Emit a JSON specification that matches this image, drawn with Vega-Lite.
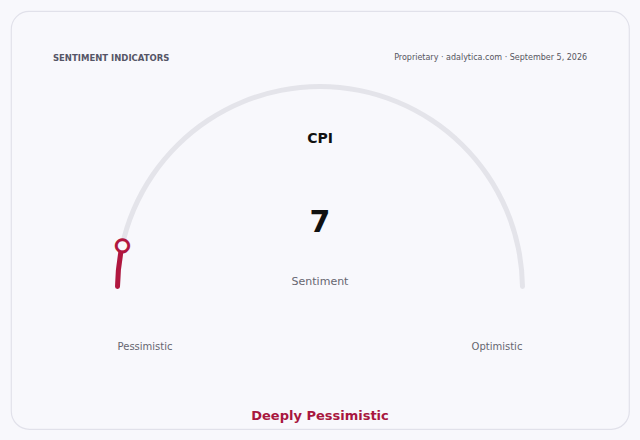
{
  "$schema": "https://vega.github.io/schema/vega-lite/v6.json",
  "description": "Sentiment gauge for CPI.",
  "width": 640,
  "height": 440,
  "autosize": {"type": "fit", "contains": "padding"},
  "padding": 11,
  "background": "#f8f8fc",
  "config": {
    "view": {"fill": "#f8f8fc", "stroke": "#e1e1ea", "strokeWidth": 1.2, "cornerRadius": 18},
    "text": {"font": "DejaVu Sans"}
  },
  "data": {
    "values": [
      {"indicator": "CPI", "metric": "Sentiment", "value": 7, "min": 0, "max": 100, "reading": "Deeply Pessimistic", "low": "Pessimistic", "high": "Optimistic", "section": "SENTIMENT INDICATORS", "source": "Proprietary · adalytica.com · September 5, 2026"}
    ]
  },
  "layer": [
    {
      "mark": {"type": "arc", "innerRadius": 200, "outerRadius": 205, "cornerRadius": 2.5, "color": "#e4e4ea"},
      "encoding": {
        "x": {"datum": 0, "type": "quantitative", "scale": {"domain": [-1.526, 1.526], "nice": false, "zero": false}, "axis": null},
        "y": {"datum": 0, "type": "quantitative", "scale": {"domain": [-0.691, 1.373], "nice": false, "zero": false}, "axis": null},
        "theta": {"field": "min", "type": "quantitative", "stack": null, "scale": {"domain": [0, 100], "range": [-1.5708, 1.5708]}},
        "theta2": {"field": "max"}
      }
    },
    {
      "mark": {"type": "arc", "innerRadius": 200, "outerRadius": 205, "cornerRadius": 2.5, "color": "#b0173f"},
      "encoding": {
        "x": {"datum": 0, "type": "quantitative", "scale": {"domain": [-1.526, 1.526], "nice": false, "zero": false}, "axis": null},
        "y": {"datum": 0, "type": "quantitative", "scale": {"domain": [-0.691, 1.373], "nice": false, "zero": false}, "axis": null},
        "theta": {"field": "min", "type": "quantitative", "stack": null, "scale": {"domain": [0, 100], "range": [-1.5708, 1.5708]}},
        "theta2": {"field": "value"}
      }
    },
    {
      "mark": {"type": "text", "text": "●", "fontSize": 20, "color": "#b0173f", "baseline": "middle", "align": "center"},
      "encoding": {
        "x": {"datum": 0, "type": "quantitative", "scale": {"domain": [-1.526, 1.526], "nice": false, "zero": false}, "axis": null},
        "y": {"datum": 0, "type": "quantitative", "scale": {"domain": [-0.691, 1.373], "nice": false, "zero": false}, "axis": null},
        "theta": {"field": "value", "type": "quantitative", "stack": null, "scale": {"domain": [0, 100], "range": [-1.5708, 1.5708]}},
        "radius": {"value": 202.5}
      }
    },
    {
      "mark": {"type": "text", "text": "●", "fontSize": 12, "color": "#f8f8fc", "baseline": "middle", "align": "center"},
      "encoding": {
        "x": {"datum": 0, "type": "quantitative", "scale": {"domain": [-1.526, 1.526], "nice": false, "zero": false}, "axis": null},
        "y": {"datum": 0, "type": "quantitative", "scale": {"domain": [-0.691, 1.373], "nice": false, "zero": false}, "axis": null},
        "theta": {"field": "value", "type": "quantitative", "stack": null, "scale": {"domain": [0, 100], "range": [-1.5708, 1.5708]}},
        "radius": {"value": 202.5}
      }
    },
    {
      "mark": {"type": "text", "fontSize": 14, "fontWeight": "bold", "color": "#111111", "baseline": "middle", "dy": 2},
      "encoding": {
        "x": {"datum": 0, "type": "quantitative", "axis": null},
        "y": {"datum": 0.751, "type": "quantitative", "axis": null},
        "text": {"field": "indicator"}
      }
    },
    {
      "mark": {"type": "text", "fontSize": 30, "fontWeight": "bold", "color": "#111111", "baseline": "middle", "dy": 2},
      "encoding": {
        "x": {"datum": 0, "type": "quantitative", "axis": null},
        "y": {"datum": 0.336, "type": "quantitative", "axis": null},
        "text": {"field": "value", "type": "quantitative"}
      }
    },
    {
      "mark": {"type": "text", "fontSize": 11, "color": "#666670", "baseline": "middle", "dy": 1.5},
      "encoding": {
        "x": {"datum": 0, "type": "quantitative", "axis": null},
        "y": {"datum": 0.04, "type": "quantitative", "axis": null},
        "text": {"field": "metric"}
      }
    },
    {
      "mark": {"type": "text", "fontSize": 10, "color": "#666670", "baseline": "middle", "dy": 1.5},
      "encoding": {
        "x": {"datum": -0.864, "type": "quantitative", "axis": null},
        "y": {"datum": -0.277, "type": "quantitative", "axis": null},
        "text": {"field": "low"}
      }
    },
    {
      "mark": {"type": "text", "fontSize": 10, "color": "#666670", "baseline": "middle", "dy": 1.5},
      "encoding": {
        "x": {"datum": 0.874, "type": "quantitative", "axis": null},
        "y": {"datum": -0.277, "type": "quantitative", "axis": null},
        "text": {"field": "high"}
      }
    },
    {
      "mark": {"type": "text", "fontSize": 13, "fontWeight": "bold", "color": "#a8173f", "baseline": "middle", "dy": 1.5},
      "encoding": {
        "x": {"datum": 0, "type": "quantitative", "axis": null},
        "y": {"datum": -0.617, "type": "quantitative", "axis": null},
        "text": {"field": "reading"}
      }
    },
    {
      "mark": {"type": "text", "fontSize": 8.5, "fontWeight": "bold", "color": "#555566", "baseline": "middle", "align": "left", "dy": 1.5},
      "encoding": {
        "x": {"datum": -1.319, "type": "quantitative", "axis": null},
        "y": {"datum": 1.146, "type": "quantitative", "axis": null},
        "text": {"field": "section"}
      }
    },
    {
      "mark": {"type": "text", "fontSize": 8, "color": "#555560", "baseline": "middle", "align": "right", "dy": 1.5},
      "encoding": {
        "x": {"datum": 1.319, "type": "quantitative", "axis": null},
        "y": {"datum": 1.146, "type": "quantitative", "axis": null},
        "text": {"field": "source"}
      }
    }
  ]
}
